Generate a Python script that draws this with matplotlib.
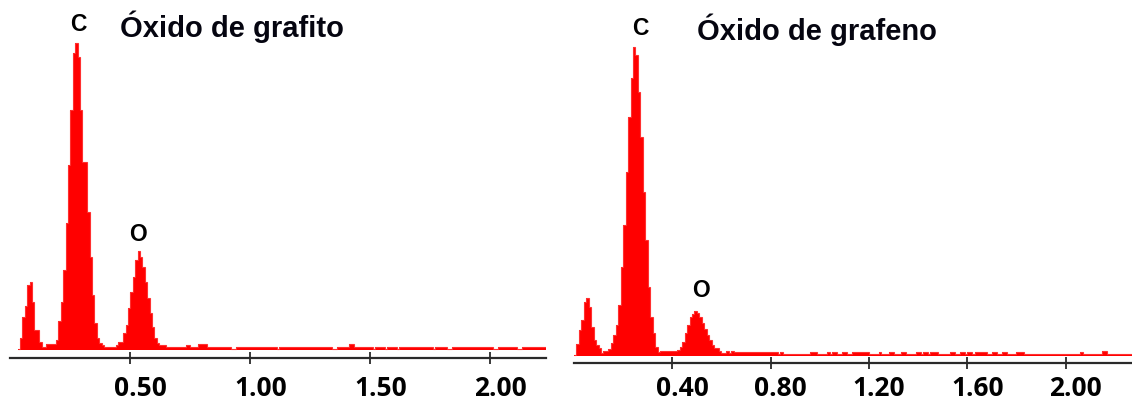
import matplotlib
matplotlib.use("Agg")
import matplotlib.pyplot as plt
import matplotlib.transforms as mtransforms
from matplotlib import font_manager
import numpy as np

# ---------------- data (relative counts per 0.01 keV channel) ----------------
bin_width = 0.01

grafito_start = 0.03
grafito_counts = [
    1, 12, 33, 44, 65, 68, 48, 20, 20, 8,
    3, 3, 6, 6, 6, 6, 10, 29, 48, 80,
    127, 185, 240, 297, 307, 293, 240, 188, 188, 138,
    93, 55, 27, 12, 7, 5, 3, 3, 3, 3,
    3, 5, 8, 8, 17, 25, 42, 58, 73, 90,
    99, 93, 83, 68, 52, 37, 23, 12, 7, 5,
    5, 5,
    # 0.65 keV onwards
    3, 3, 3, 3, 3, 3, 3, 3, 5, 5,
    3, 3, 3, 6, 6, 6, 6, 3, 3, 3,
    3, 3, 3, 3, 3, 3, 3, 1.5, 1.5, 3,
    3, 3, 3, 3, 3, 3, 3, 3, 3, 3,
    3, 3, 3, 3, 3, 3, 1.5, 3, 3, 3,
    3, 3, 3, 3, 3, 3, 3, 3, 3, 3,
    3, 3, 3, 3, 3, 3, 3, 3, 3, 1.5,
    1.5, 3, 3, 3, 3, 3, 6, 6, 3, 3,
    3, 3, 3, 3, 3, 3, 1.5, 3, 3, 3,
    3, 1.5, 3, 3, 3, 3, 1.5, 3, 3, 3,
    3, 3, 3, 3, 3, 3, 3, 3, 3, 3,
    3, 1.5, 3, 3, 3, 3, 3, 1.5, 1.5, 3,
    3, 3, 3, 3, 3, 3, 3, 3, 3, 3,
    3, 3, 3, 3, 3, 3, 1.5, 1.5, 3, 3,
    3, 3, 3, 3, 3, 3, 1.5, 1.5, 3, 3,
    3, 3, 3, 3, 3, 3, 3, 3, 3,
]

grafeno_start = 0.00
grafeno_counts = [
    1, 12, 26, 36, 54, 58, 49, 29, 16, 11,
    8, 3, 5, 5, 7, 13, 21, 31, 51, 89,
    131, 184, 239, 278, 309, 301, 264, 219, 164, 116,
    69, 39, 23, 9, 4, 5, 5, 5, 5, 5,
    5, 5, 6, 9, 14, 23, 31, 39, 42, 45,
    43, 39, 33, 27, 21, 16, 11, 8, 8, 5,
    3, 3, 5, 3, 5, 4, 4, 4, 4, 4,
    # 0.70 keV onwards
    4, 4, 4, 4, 4, 4, 4, 4, 4, 4,
    4, 4, 4, 2, 4, 2, 2, 2, 2, 2,
    2, 2, 2, 2, 2, 2, 4, 4, 4, 2,
    2, 2, 2, 4, 2, 4, 4, 2, 2, 4,
    4, 2, 2, 4, 4, 4, 4, 4, 4, 4,
    2, 2, 2, 2, 4, 2, 2, 2, 4, 4,
    2, 2, 2, 4, 4, 2, 2, 2, 2, 4,
    4, 2, 4, 4, 2, 4, 4, 4, 2, 2,
    2, 2, 2, 4, 4, 2, 2, 4, 4, 2,
    4, 4, 2, 4, 4, 4, 4, 4, 2, 2,
    4, 4, 2, 2, 4, 4, 2, 2, 2, 2,
    4, 4, 4, 2, 2, 2, 2, 2, 2, 2,
    2, 2, 2, 2, 2, 2, 2, 2, 2, 2,
    2, 2, 2, 2, 2, 2, 4, 2, 2, 2,
    2, 2, 2, 2, 2, 5, 5, 2, 2, 2,
    2, 2, 2, 2, 2, 2, 2,
]

grafito_ticks = [0.50, 1.00, 1.50, 2.00]
grafeno_ticks = [0.40, 0.80, 1.20, 1.60, 2.00]
titles = ["Óxido de grafito", "Óxido de grafeno"]
peak_labels = ["C", "O"]
grafito_peak_pos = [(0.282, 314), (0.533, 104)]   # label anchor (keV, counts)
grafeno_peak_pos = [(0.27, 316), (0.515, 54)]

# ---------------- figure ----------------
W, H = 1132, 403
DPI = 100
fig = plt.figure(figsize=(W / DPI, H / DPI), dpi=DPI)
fig.patch.set_facecolor("white")

RED = "#ff0000"
AX_COL = "#2a2a2a"
available = {f.name for f in font_manager.fontManager.ttflist}
TICK_FONT = [f for f in ["Liberation Sans Narrow", "DejaVu Sans Condensed", "Open Sans",
                         "DejaVu Sans"] if f in available] or ["DejaVu Sans"]
TICK_STRETCH = "condensed"
TITLE_FONT = ["Liberation Sans", "DejaVu Sans"]


def px_axes(left, right, top, bottom):
    return fig.add_axes([left / W, 1 - bottom / H, (right - left) / W, (bottom - top) / H])


def make_panel(ax, start, counts, ticks, xmax, ymin, ymax, pad):
    edges = start + bin_width * np.arange(len(counts) + 1)
    ax.stairs(counts, edges, fill=True, color=RED, baseline=0, lw=0)
    ax.stairs(counts, edges, fill=False, color="#ff3030", baseline=None, lw=0.8)
    ax.set_xlim(0, xmax)
    ax.set_ylim(ymin, ymax)
    for s in ["top", "left", "right"]:
        ax.spines[s].set_visible(False)
    ax.spines["bottom"].set_color(AX_COL)
    ax.spines["bottom"].set_linewidth(1.6)
    ax.set_yticks([])
    ax.set_xticks(ticks)
    ax.set_xticklabels([f"{t:.2f}" for t in ticks])
    ax.tick_params(axis="x", direction="inout", length=8, width=1.3, color=AX_COL,
                   pad=pad, labelsize=19)
    offset = mtransforms.ScaledTranslation(10 / DPI, 0, fig.dpi_scale_trans)
    for lab in ax.get_xticklabels():
        lab.set_fontfamily(TICK_FONT)
        lab.set_fontweight("bold")
        lab.set_fontstretch(TICK_STRETCH)
        lab.set_transform(lab.get_transform() + offset)
    ax.patch.set_alpha(0)


# left panel: spine at y=358 px, zero at y=350 px, x=0 at 10.4 px, 240 px/keV
axL = px_axes(10.4, 10.4 + 2.23 * 240, 0, 358)
make_panel(axL, grafito_start, grafito_counts, grafito_ticks, 2.23, -8, 350, pad=8)

# right panel: spine at y=363 px, zero at y=356 px, x=0 at 574 px, 245.8 px/keV
axR = px_axes(574, 574 + 2.27 * 245.8, 0, 363)
make_panel(axR, grafeno_start, grafeno_counts, grafeno_ticks, 2.27, -7, 356, pad=5)

for ax, pos in [(axL, grafito_peak_pos), (axR, grafeno_peak_pos)]:
    for lab, (xv, yv) in zip(peak_labels, pos):
        ax.text(xv, yv, lab, ha="center", va="bottom", fontsize=16.5, fontweight="bold",
                family=TITLE_FONT, color="black", clip_on=False)

fig.text(120 / W, 1 - 37 / H, titles[0], ha="left", va="baseline", fontsize=21,
         fontweight="bold", family=TITLE_FONT, color="#050510")
fig.text(697 / W, 1 - 40 / H, titles[1], ha="left", va="baseline", fontsize=21,
         fontweight="bold", family=TITLE_FONT, color="#050510")

fig.savefig("out.png", dpi=DPI, facecolor="white")
